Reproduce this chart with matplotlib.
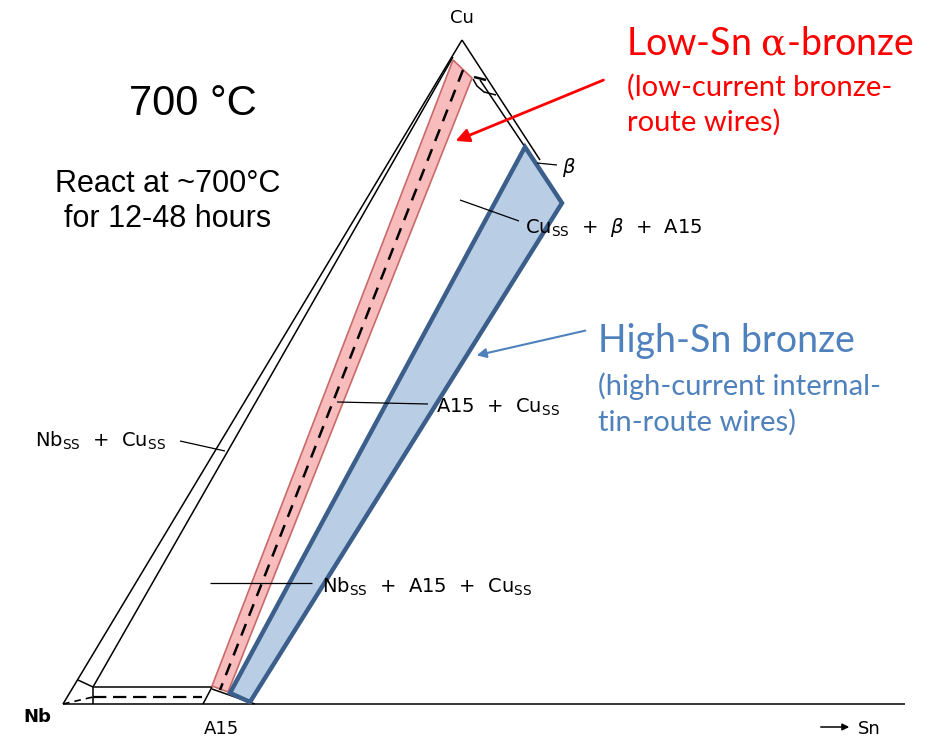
import numpy as np
import matplotlib.pyplot as plt
from matplotlib.patches import Polygon

# ---- diagram geometry (image pixel coordinates, y pointing down) ----
outer_left = [(63, 704), (462, 40)]
inner_left = [(93, 687), (453, 57)]
outer_right = [(462, 40), (540, 160)]
inner_right = [(480, 80), (525, 147)]
cu_arc = [(473, 79), (477, 86), (484, 92), (496, 95)]
cu_tick = [(474, 77), (486, 80)]
baseline = [(63, 704), (905, 704)]
nb_corner = [(78, 680), (93, 687)]
nb_vert = [(93, 687), (93, 704)]
a15_top = [(93, 687), (212, 687)]
a15_dash = [(93, 697), (202, 697)]
nb_dash = [(63, 704), (93, 697)]
a15_tick = [(203, 704), (212, 687)]
a15_tie = [(212, 689), (255, 704)]

alpha_band = [(453, 60), (472, 78), (228, 692), (212, 686)]
alpha_centre = [(463, 70), (220, 690)]
high_sn_band = [(525, 147), (562, 203), (250, 702), (230, 693)]

# phase-field labels: (text, x, y, leader line)
ss = r"$_\mathregular{SS}$"
phase_labels = [
    ("Nb" + ss + "  +  Cu" + ss, 35, 447, [(180, 441), (225, 451)]),
    ("A15  +  Cu" + ss, 436, 413, [(337, 402), (428, 404)]),
    ("Nb" + ss + "  +  A15  +  Cu" + ss, 322, 593, [(210, 583), (312, 583)]),
    ("Cu" + ss + r"  +  $\beta$  +  A15", 525, 233, [(460, 200), (519, 221)]),
    (r"$\beta$", 562, 173, [(537, 163), (557, 165)]),
]
corner_labels = [("Cu", 462, 18), ("Nb", 37, 717), ("A15", 221, 729)]

red = "#ff0000"
blue = "#4f81bd"
band_red = "#f9bcbc"
band_blue = "#b9cde5"
band_edge = "#3b5e8a"

plt.rcParams["mathtext.fontset"] = "dejavusans"

fig = plt.figure(figsize=(9.43, 7.4), dpi=100)
ax = fig.add_axes([0, 0, 1, 1])
ax.set_xlim(0, 943)
ax.set_ylim(740, 0)
ax.axis("off")


def seg(pts, **kw):
    xs, ys = zip(*pts)
    ax.plot(xs, ys, color="black", solid_capstyle="butt", **kw)


# phase diagram outline
for s in [outer_left, inner_left, outer_right, inner_right, cu_arc, baseline,
          nb_corner, nb_vert, a15_top, a15_tick, a15_tie]:
    seg(s, lw=1.1)
seg(cu_tick, lw=1.8)
seg(a15_dash, lw=1.6, linestyle=(0, (6, 3)))
seg(nb_dash, lw=1.2, linestyle=(0, (4, 3)))

# low-Sn alpha bronze band
ax.add_patch(Polygon(alpha_band, closed=True, facecolor=band_red,
                     edgecolor="#c86a6a", lw=1.2, zorder=3))
seg(alpha_centre, lw=1.8, linestyle=(0, (5, 3.5)), zorder=4)

# high-Sn bronze band
ax.add_patch(Polygon(high_sn_band, closed=True, facecolor=band_blue,
                     edgecolor=band_edge, lw=3.2, joinstyle="miter", zorder=3))

# labels inside the diagram
for txt, x, y, lead in phase_labels:
    seg(lead, lw=0.9, zorder=5)
    ax.text(x, y, txt, fontsize=14, family="DejaVu Sans", ha="left",
            va="baseline", zorder=6)
for txt, x, y in corner_labels:
    ax.text(x, y, txt, fontsize=13, family="DejaVu Sans", ha="center",
            va="center", fontweight="bold" if txt == "Nb" else "normal")
ax.annotate("", xy=(852, 727), xytext=(818, 727),
            arrowprops=dict(arrowstyle="-|>", color="black", lw=1.1,
                            mutation_scale=10))
ax.text(858, 729, "Sn", fontsize=13, family="DejaVu Sans", va="center")

# annotations
ax.text(193, 115, "700 °C", fontsize=30, family="Liberation Sans",
        ha="center", va="baseline")
ax.text(168, 192, "React at ~700°C", fontsize=22, family="Liberation Sans",
        ha="center", va="baseline")
ax.text(168, 227, "for 12-48 hours", fontsize=22, family="Liberation Sans",
        ha="center", va="baseline")

ax.text(626, 55, r"Low-Sn $\mathrm{\alpha}$-bronze", fontsize=27,
        family="Lato", color=red, va="baseline",
        math_fontfamily="dejavuserif")
ax.text(627, 96, "(low-current bronze-", fontsize=21, family="Lato",
        color=red, va="baseline")
ax.text(627, 131, "route wires)", fontsize=21, family="Lato", color=red,
        va="baseline")
ax.annotate("", xy=(453, 142), xytext=(606, 79),
            arrowprops=dict(arrowstyle="-|>", color=red, lw=2,
                            mutation_scale=20))

ax.text(598, 352, "High-Sn bronze", fontsize=27, family="Lato", color=blue,
        va="baseline")
ax.text(598, 395, "(high-current internal-", fontsize=21, family="Lato",
        color=blue, va="baseline")
ax.text(598, 431, "tin-route wires)", fontsize=21, family="Lato", color=blue,
        va="baseline")
ax.annotate("", xy=(474, 356), xytext=(588, 330),
            arrowprops=dict(arrowstyle="-|>", color=blue, lw=1.5,
                            mutation_scale=14))

fig.savefig("out.png", dpi=100)
